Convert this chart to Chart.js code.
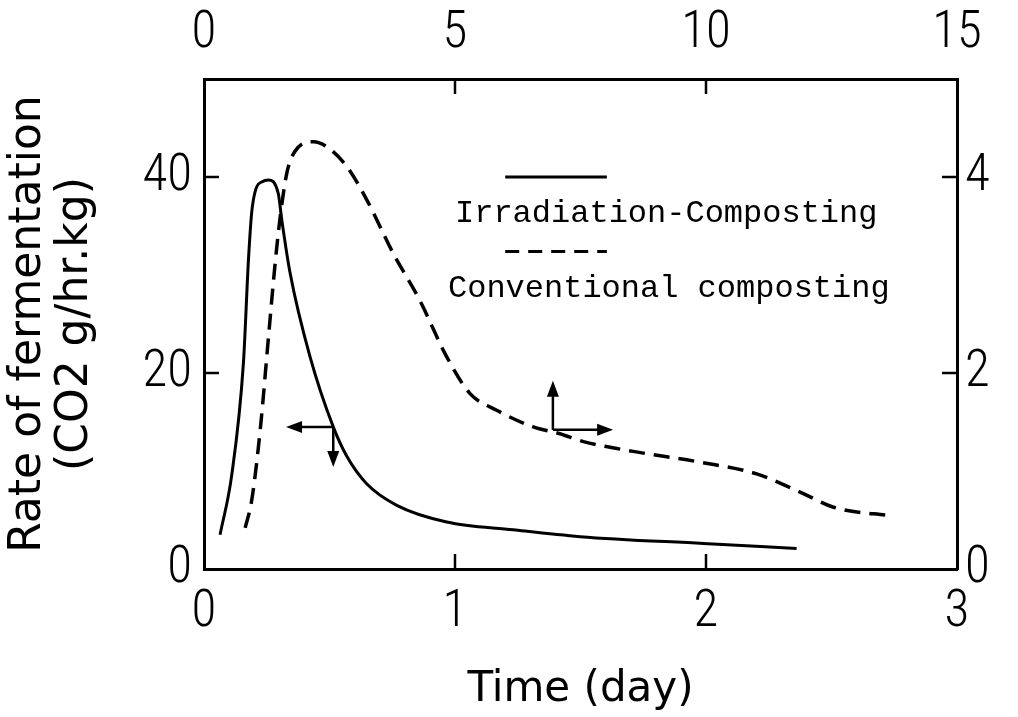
<!DOCTYPE html>
<html lang="en">
    <head>
        <meta charset="UTF-8" />
        <title>Rate of fermentation</title>
        <script src="https://cdn.jsdelivr.net/npm/chart.js"></script>
        <style>
            body { margin: 0; background: #fff; }
        </style>
    </head>
    <body>
        <canvas id="fermentacion" width="1018" height="717"></canvas>

        <script>
            // Irradiation-composting: time in days (bottom axis), CO2 g/hr.kg (left axis)
            const diasIrr = [0.064, 0.11, 0.157, 0.177, 0.19, 0.197, 0.21, 0.23, 0.256, 0.296, 0.31, 0.343, 0.422, 0.515, 0.569, 0.648, 0.768, 0.967, 1.232, 1.498, 1.989, 2.361];
            const tasaIrr = [3.5, 9.5, 21.0, 31.5, 36.4, 37.7, 39.0, 39.5, 39.7, 38.3, 35.6, 30.2, 21.7, 14.5, 11.5, 8.7, 6.5, 4.8, 4.0, 3.3, 2.6, 2.1];

            // Conventional composting: time in days (top axis), CO2 g/hr.kg (right axis)
            const diasConv = [0.82, 0.95, 1.12, 1.28, 1.41, 1.51, 1.65, 1.81, 2.18, 2.44, 2.84, 3.24, 3.77, 4.30, 4.83, 5.30, 5.83, 6.56, 7.09, 7.56, 8.55, 9.88, 11.01, 11.94, 12.54, 13.73];
            const tasaConv = [0.42, 0.70, 1.42, 2.34, 3.08, 3.56, 4.04, 4.26, 4.36, 4.31, 4.11, 3.77, 3.22, 2.74, 2.17, 1.79, 1.62, 1.45, 1.38, 1.30, 1.20, 1.09, 0.97, 0.77, 0.63, 0.54];

            // Tick values for the four axes
            const ticksAbajo = [0, 1, 2, 3];
            const ticksArriba = [0, 5, 10, 15];
            const ticksIzq = [0, 20, 40];
            const ticksDer = [0, 2, 4];

            const fuenteNum = '"Liberation Sans Narrow", "Roboto Condensed", "DejaVu Sans Condensed", sans-serif';
            const fuenteTitulo = '"DejaVu Sans", sans-serif';

            function fijarTicks(valores) {
                return (scale) => {
                    scale.ticks = valores.map((v) => ({ value: v }));
                };
            }

            function eje(posicion, min, max, valores, extra) {
                return Object.assign(
                    {
                        type: "linear",
                        position: posicion,
                        min: min,
                        max: max,
                        afterBuildTicks: fijarTicks(valores),
                        grid: { display: false, drawTicks: false },
                        border: { display: true, color: "#000", width: 3 },
                        ticks: {
                            color: "#000",
                            font: { family: fuenteNum, size: 51, weight: "300" },
                            maxRotation: 0,
                            autoSkip: false,
                        },
                    },
                    extra
                );
            }

            function flecha(ctx, x1, y1, x2, y2) {
                const ang = Math.atan2(y2 - y1, x2 - x1);
                const largo = 16, ancho = 6;
                ctx.beginPath();
                ctx.moveTo(x1, y1);
                ctx.lineTo(x2 - Math.cos(ang) * largo * 0.6, y2 - Math.sin(ang) * largo * 0.6);
                ctx.stroke();
                ctx.beginPath();
                ctx.moveTo(x2, y2);
                ctx.lineTo(x2 - Math.cos(ang) * largo - Math.sin(ang) * ancho, y2 - Math.sin(ang) * largo + Math.cos(ang) * ancho);
                ctx.lineTo(x2 - Math.cos(ang) * largo + Math.sin(ang) * ancho, y2 - Math.sin(ang) * largo - Math.cos(ang) * ancho);
                ctx.closePath();
                ctx.fill();
            }

            // Inner tick marks, in-plot legend and the axis arrows
            const extras = {
                id: "extras",
                afterDatasetsDraw(chart) {
                    const { ctx, chartArea: a, scales: s } = chart;
                    ctx.save();
                    ctx.strokeStyle = "#000";
                    ctx.fillStyle = "#000";
                    ctx.lineWidth = 2.5;
                    ctx.setLineDash([]);

                    const marca = 15;
                    ticksAbajo.slice(1, -1).forEach((v) => {
                        const px = s.x.getPixelForValue(v);
                        ctx.beginPath(); ctx.moveTo(px, a.bottom); ctx.lineTo(px, a.bottom - marca); ctx.stroke();
                    });
                    ticksArriba.slice(1, -1).forEach((v) => {
                        const px = s.x2.getPixelForValue(v);
                        ctx.beginPath(); ctx.moveTo(px, a.top); ctx.lineTo(px, a.top + marca); ctx.stroke();
                    });
                    ticksIzq.slice(1).forEach((v) => {
                        const py = s.y.getPixelForValue(v);
                        ctx.beginPath(); ctx.moveTo(a.left, py); ctx.lineTo(a.left + marca, py); ctx.stroke();
                    });
                    ticksDer.slice(1).forEach((v) => {
                        const py = s.y2.getPixelForValue(v);
                        ctx.beginPath(); ctx.moveTo(a.right, py); ctx.lineTo(a.right - marca, py); ctx.stroke();
                    });

                    // legend
                    const ds = chart.data.datasets;
                    const lx1 = s.x.getPixelForValue(1.2), lx2 = s.x.getPixelForValue(1.605);
                    ctx.lineWidth = 3;
                    ctx.beginPath(); ctx.moveTo(lx1, s.y.getPixelForValue(40)); ctx.lineTo(lx2, s.y.getPixelForValue(40)); ctx.stroke();
                    ctx.setLineDash([14, 9]);
                    ctx.beginPath(); ctx.moveTo(lx1, s.y.getPixelForValue(32.4)); ctx.lineTo(lx2, s.y.getPixelForValue(32.4)); ctx.stroke();
                    ctx.setLineDash([]);
                    ctx.font = '32px "Liberation Mono", "DejaVu Sans Mono", monospace';
                    ctx.textBaseline = "alphabetic";
                    ctx.textAlign = "left";
                    ctx.fillText(ds[0].label, s.x.getPixelForValue(1.0), s.y.getPixelForValue(35.4));
                    ctx.fillText(ds[1].label, s.x.getPixelForValue(0.972), s.y.getPixelForValue(27.8));

                    // arrows: solid curve reads left/bottom, dashed curve reads top/right
                    ctx.lineWidth = 2.5;
                    const ax = s.x.getPixelForValue(0.515), ay = s.y.getPixelForValue(14.5);
                    flecha(ctx, ax, ay, s.x.getPixelForValue(0.327), ay);
                    flecha(ctx, ax, ay, ax, s.y.getPixelForValue(10.4));
                    const bx = s.x2.getPixelForValue(6.95), by = s.y2.getPixelForValue(1.42);
                    flecha(ctx, bx, by, bx, s.y2.getPixelForValue(1.92));
                    flecha(ctx, bx, by, s.x2.getPixelForValue(8.15), by);

                    ctx.restore();
                },
            };

            const ctx = document.getElementById("fermentacion").getContext("2d");
            new Chart(ctx, {
                type: "line",
                data: {
                    datasets: [
                        {
                            label: "Irradiation-Composting",
                            data: diasIrr.map((d, i) => ({ x: d, y: tasaIrr[i] })),
                            xAxisID: "x",
                            yAxisID: "y",
                            borderColor: "#000",
                            borderWidth: 3,
                            pointRadius: 0,
                            fill: false,
                            cubicInterpolationMode: "monotone",
                        },
                        {
                            label: "Conventional composting",
                            data: diasConv.map((d, i) => ({ x: d, y: tasaConv[i] })),
                            xAxisID: "x2",
                            yAxisID: "y2",
                            borderColor: "#000",
                            borderWidth: 3.5,
                            borderDash: [16, 9],
                            pointRadius: 0,
                            fill: false,
                            cubicInterpolationMode: "monotone",
                        },
                    ],
                },
                options: {
                    responsive: false,
                    animation: false,
                    layout: { padding: 0 },
                    plugins: {
                        legend: { display: false },
                        tooltip: { enabled: false },
                    },
                    scales: {
                        x: eje("bottom", 0, 3, ticksAbajo, {
                            afterFit: (sc) => { sc.height = 148; },
                            title: {
                                display: true,
                                text: "Time (day)",
                                color: "#000",
                                font: { family: fuenteTitulo, size: 42 },
                                padding: { top: 0, bottom: 2 },
                            },
                        }),
                        x2: eje("top", 0, 15, ticksArriba, {
                            afterFit: (sc) => { sc.height = 79; },
                        }),
                        y: eje("left", 0, 50, ticksIzq, {
                            afterFit: (sc) => { sc.width = 204; },
                            title: {
                                display: true,
                                text: ["Rate of fermentation", "(CO2 g/hr.kg)"],
                                color: "#000",
                                font: { family: fuenteTitulo, size: 44, lineHeight: 1.07 },
                                padding: { top: 5, bottom: 0 },
                            },
                        }),
                        y2: eje("right", 0, 5, ticksDer, {
                            afterFit: (sc) => { sc.width = 61; },
                        }),
                    },
                },
                plugins: [extras],
            });

            // tick label offsets from the frame
            const c = Chart.getChart("fermentacion");
            c.options.scales.x.ticks.padding = 14;
            c.options.scales.x2.ticks.padding = 14;
            c.options.scales.y.ticks.padding = 12;
            c.options.scales.y2.ticks.padding = 8;
            c.update();
        </script>
    </body>
</html>
